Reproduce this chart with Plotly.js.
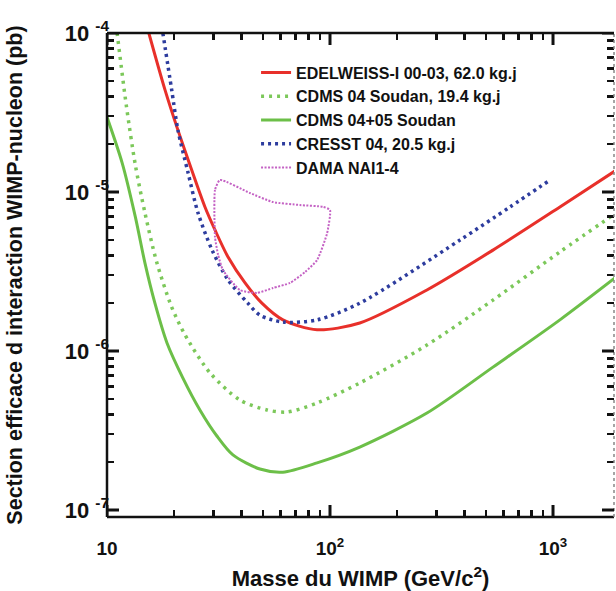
<!DOCTYPE html>
<html>
<head>
<meta charset="utf-8">
<script src="https://cdn.plot.ly/plotly-3.0.1.min.js"></script>
<style>html,body{margin:0;padding:0;background:#fff;}#chart{width:616px;height:591px;}</style>
</head>
<body>
<div id="chart"></div>
<script>
// WIMP mass (GeV/c^2) and cross-section (pb)
const edelweissMass = [15.4, 18.2, 20.8, 24.0, 27.5, 30.5, 34.9, 41.6, 49.5, 61.5, 87.5, 136, 272, 538, 1074, 1919];
const edelweissSigma = [1.0e-4, 4.39e-5, 2.45e-5, 1.37e-5, 8.05e-6, 5.77e-6, 3.90e-6, 2.68e-6, 2.0e-6, 1.57e-6, 1.36e-6, 1.5e-6, 2.42e-6, 4.31e-6, 8.05e-6, 1.37e-5];

const cdms04Mass = [11.1, 12.2, 13.4, 14.8, 16.7, 19.5, 22.4, 29.0, 39.4, 52.1, 64.1, 87.5, 136, 272, 538, 1074, 1919];
const cdms04Sigma = [1.0e-4, 3.52e-5, 1.48e-5, 7.38e-6, 3.63e-6, 1.89e-6, 1.26e-6, 7.27e-7, 4.92e-7, 4.26e-7, 4.13e-7, 4.71e-7, 6.29e-7, 1.09e-6, 2.09e-6, 4.2e-6, 7.38e-6];

const cdms0405Mass = [10, 11.7, 13.4, 14.8, 16.4, 18.6, 21.9, 26.1, 31.1, 36.7, 48.5, 61.5, 87.5, 136, 272, 538, 1074, 1919];
const cdms0405Sigma = [2.96e-5, 1.52e-5, 6.97e-6, 3.57e-6, 2.0e-6, 1.12e-6, 6.76e-7, 4.26e-7, 2.92e-7, 2.22e-7, 1.81e-7, 1.73e-7, 1.98e-7, 2.49e-7, 4.07e-7, 7.92e-7, 1.57e-6, 2.92e-6];

const cresstMass = [17.8, 19.5, 20.8, 23.1, 25.6, 29.6, 34.9, 42.8, 48.5, 61.5, 87.5, 136, 383, 641, 970];
const cresstSigma = [1.0e-4, 4.39e-5, 2.45e-5, 1.32e-5, 7.38e-6, 4.31e-6, 2.80e-6, 2.0e-6, 1.68e-6, 1.52e-6, 1.57e-6, 2.0e-6, 4.99e-6, 8.05e-6, 1.19e-5];

const damaMass = [32.1, 30.5, 30.5, 31.5, 33.1, 39.4, 47.1, 55.5, 66.2, 77.3, 87.5, 97.1, 100, 93.1, 73.3, 55.5, 43.7, 32.1];
const damaSigma = [1.19e-5, 1.03e-5, 5.21e-6, 4.02e-6, 3.23e-6, 2.42e-6, 2.32e-6, 2.49e-6, 2.68e-6, 3.14e-6, 3.73e-6, 5.52e-6, 7.71e-6, 8.06e-6, 8.28e-6, 8.65e-6, 9.86e-6, 1.19e-5];

const seriesNames = ["EDELWEISS-I 00-03, 62.0 kg.j", "CDMS 04 Soudan, 19.4 kg.j", "CDMS 04+05 Soudan", "CRESST 04, 20.5 kg.j", "DAMA NAI1-4"];

const xTickVals = [10, 100, 1000];
const xTickText = ["<b>10</b>", "<b>10<sup>2</sup></b>", "<b>10<sup>3</sup></b>"];
const xMinorVals = [20, 30, 40, 50, 60, 70, 80, 90, 200, 300, 400, 500, 600, 700, 800, 900];
const yTickVals = [1e-7, 1e-6, 1e-5, 1e-4];
const yTickText = ["<b>10 <sup>-7</sup></b>", "<b>10 <sup>-6</sup></b>", "<b>10 <sup>-5</sup></b>", "<b>10 <sup>-4</sup></b>"];
const yMinorVals = [2e-7, 3e-7, 4e-7, 5e-7, 6e-7, 7e-7, 8e-7, 9e-7, 2e-6, 3e-6, 4e-6, 5e-6, 6e-6, 7e-6, 8e-6, 9e-6, 2e-5, 3e-5, 4e-5, 5e-5, 6e-5, 7e-5, 8e-5, 9e-5];

const FONT = "'Liberation Sans', Arial, Helvetica, sans-serif";
const X_RANGE = [1, 3.2735];
const Y_RANGE = [-7.044, -4];

const traces = [
  {x: edelweissMass, y: edelweissSigma, name: seriesNames[0], mode: "lines",
   line: {color: "#e8302a", width: 3, shape: "spline", smoothing: 0.8}},
  {x: cdms04Mass, y: cdms04Sigma, name: seriesNames[1], mode: "lines",
   line: {color: "#7cc85a", width: 3.5, dash: "3px,5px", shape: "spline", smoothing: 0.8}},
  {x: cdms0405Mass, y: cdms0405Sigma, name: seriesNames[2], mode: "lines",
   line: {color: "#6cbf48", width: 3, shape: "spline", smoothing: 0.8}},
  {x: cresstMass, y: cresstSigma, name: seriesNames[3], mode: "lines",
   line: {color: "#2d3c9e", width: 3.5, dash: "3px,4px", shape: "spline", smoothing: 0.8}},
  {x: damaMass, y: damaSigma, name: seriesNames[4], mode: "lines",
   line: {color: "#c462c4", width: 2, dash: "2px,1.5px", shape: "spline", smoothing: 0.5}}
];

function allTicks(majorVals, majorText, minorVals) {
  return {vals: majorVals.concat(minorVals), text: majorText.concat(minorVals.map(() => ""))};
}
const xAll = allTicks(xTickVals, xTickText, xMinorVals);
const yAll = allTicks(yTickVals, yTickText, yMinorVals);

function axisBase(fontSize, ticks) {
  return {
    type: "log",
    showgrid: false,
    zeroline: false,
    ticks: "inside",
    ticklen: 7,
    tickwidth: 2.5,
    tickcolor: "#111",
    showline: false,
    mirror: "ticks",
    tickmode: "array",
    tickvals: ticks.vals,
    ticktext: ticks.text,
    tickfont: {family: FONT, size: fontSize, color: "#111"}
  };
}

// longer major ticks, anchored in pixels at each major tick value
const majorTickShapes = [];
xTickVals.forEach(v => {
  majorTickShapes.push({type: "line", xref: "x", yref: "paper", ysizemode: "pixel", yanchor: 0, x0: v, x1: v, y0: 0, y1: 12, line: {color: "#111", width: 3}});
  majorTickShapes.push({type: "line", xref: "x", yref: "paper", ysizemode: "pixel", yanchor: 1, x0: v, x1: v, y0: 0, y1: -12, line: {color: "#111", width: 3}});
});
yTickVals.forEach(v => {
  majorTickShapes.push({type: "line", xref: "paper", yref: "y", xsizemode: "pixel", xanchor: 0, y0: v, y1: v, x0: 0, x1: 12, line: {color: "#111", width: 3}});
  majorTickShapes.push({type: "line", xref: "paper", yref: "y", xsizemode: "pixel", xanchor: 1, y0: v, y1: v, x0: 0, x1: -12, line: {color: "#111", width: 3}});
});

const layout = {
  width: 616,
  height: 591,
  margin: {l: 107, r: 2, t: 33, b: 74},
  paper_bgcolor: "#fff",
  plot_bgcolor: "#fff",
  font: {family: FONT, color: "#111"},
  showlegend: true,
  legend: {
    x: 0.294, y: 0.9535, xanchor: "left", yanchor: "top",
    bgcolor: "rgba(0,0,0,0)",
    font: {family: FONT, size: 16, color: "#111", weight: "bold"},
    tracegroupgap: 0
  },
  xaxis: Object.assign(axisBase(19, xAll), {
    range: X_RANGE,
    ticklabelstandoff: 18,
    title: {text: "<b>Masse du WIMP (GeV/c<sup>2</sup>)</b>", font: {family: FONT, size: 22, color: "#111"}, standoff: 12}
  }),
  yaxis: Object.assign(axisBase(22, yAll), {
    range: Y_RANGE,
    ticklabelstandoff: -3,
    title: {text: "<b>Section efficace d interaction WIMP-nucleon (pb)</b>", font: {family: FONT, size: 21.5, color: "#111"}, standoff: 36}
  }),
  shapes: [
    {type: "line", xref: "paper", yref: "paper", x0: 0, x1: 0, y0: 0, y1: 1, line: {color: "#111", width: 2.5}},
    {type: "line", xref: "paper", yref: "paper", x0: 0, x1: 1, y0: 0, y1: 0, line: {color: "#111", width: 2.5}},
    {type: "line", xref: "paper", yref: "paper", x0: 0, x1: 1, y0: 1, y1: 1, line: {color: "#111", width: 2.5}},
    {type: "line", xref: "paper", yref: "paper", x0: 1, x1: 1, y0: 0, y1: 1, line: {color: "#888", width: 1.5, dash: "dot"}}
  ].concat(majorTickShapes)
};

Plotly.newPlot("chart", traces, layout, {displayModeBar: false, staticPlot: true});
</script>
</body>
</html>
